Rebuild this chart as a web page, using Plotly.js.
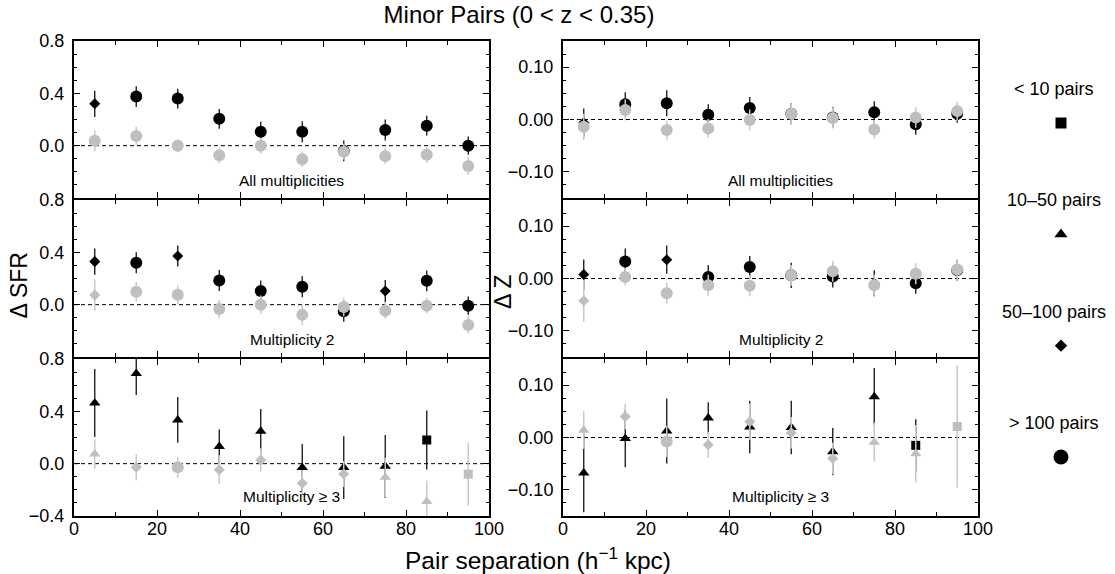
<!DOCTYPE html>
<html>
<head>
<meta charset="utf-8">
<script src="https://cdn.plot.ly/plotly-3.0.1.min.js"></script>
<style>html,body{margin:0;padding:0;background:#fff;}#chart{width:1115px;height:574px;}</style>
</head>
<body>
<div id="chart"></div>
<script>
// ---- data ----
const sepBins = [5, 15, 25, 35, 45, 55, 65, 75, 85, 95];
const sepTicks = [0, 20, 40, 60, 80, 100];
const sepMinor = [10, 30, 50, 70, 90];

// pair-count class: 1 = <10, 2 = 10-50, 3 = 50-100, 4 = >100
const legendLabels = ['< 10 pairs', '10\u201350 pairs', '50\u2013100 pairs', '> 100 pairs'];
const legendClasses = [1, 2, 3, 4];

// Delta SFR, all multiplicities
const sfrAllBlack    = [0.32, 0.375, 0.36, 0.205, 0.107, 0.107, -0.04, 0.12, 0.153, 0.0];
const sfrAllBlackErr = [0.10, 0.08, 0.075, 0.075, 0.075, 0.08, 0.08, 0.08, 0.075, 0.07];
const sfrAllGray     = [0.038, 0.074, 0.0, -0.074, 0.0, -0.104, -0.046, -0.08, -0.07, -0.155];
const sfrAllGrayErr  = [0.08, 0.07, 0.05, 0.06, 0.06, 0.06, 0.06, 0.06, 0.06, 0.07];
// Delta SFR, multiplicity 2
const sfrM2Black     = [0.329, 0.32, 0.372, 0.185, 0.104, 0.137, -0.05, 0.104, 0.182, -0.008];
const sfrM2BlackErr  = [0.10, 0.08, 0.08, 0.08, 0.08, 0.08, 0.08, 0.085, 0.08, 0.07];
const sfrM2Gray      = [0.073, 0.099, 0.076, -0.033, 0.0, -0.078, -0.018, -0.046, -0.008, -0.155];
const sfrM2GrayErr   = [0.12, 0.075, 0.07, 0.07, 0.07, 0.08, 0.07, 0.06, 0.06, 0.07];
// Delta SFR, multiplicity >= 3
const sfrM3Black     = [0.464, 0.69, 0.334, 0.132, 0.247, -0.03, -0.03, -0.02, 0.181, null];
const sfrM3BlackErr  = [0.26, 0.165, 0.175, 0.13, 0.17, 0.18, 0.24, 0.24, 0.225, null];
const sfrM3Gray      = [0.074, -0.028, -0.028, -0.046, 0.028, -0.15, -0.079, -0.104, -0.29, -0.08];
const sfrM3GrayErr   = [0.11, 0.10, 0.08, 0.11, 0.09, 0.10, 0.10, 0.15, 0.16, 0.24];

// Delta Z, all multiplicities
const zAllBlack      = [-0.006, 0.029, 0.031, 0.009, 0.022, 0.011, 0.004, 0.014, -0.009, 0.011];
const zAllBlackErr   = [0.027, 0.023, 0.025, 0.02, 0.021, 0.02, 0.02, 0.021, 0.02, 0.017];
const zAllGray       = [-0.014, 0.018, -0.02, -0.017, -0.001, 0.011, 0.003, -0.019, 0.004, 0.016];
const zAllGrayErr    = [0.025, 0.02, 0.018, 0.018, 0.02, 0.02, 0.02, 0.018, 0.02, 0.018];
// Delta Z, multiplicity 2
const zM2Black       = [0.0075, 0.0325, 0.036, 0.003, 0.022, 0.006, 0.004, -0.009, -0.009, 0.016];
const zM2BlackErr    = [0.029, 0.025, 0.027, 0.023, 0.021, 0.024, 0.021, 0.025, 0.02, 0.02];
const zM2Gray        = [-0.0425, 0.003, -0.028, -0.013, -0.014, 0.006, 0.014, -0.013, 0.009, 0.017];
const zM2GrayErr     = [0.04, 0.017, 0.02, 0.02, 0.02, 0.02, 0.02, 0.02, 0.02, 0.02];
// Delta Z, multiplicity >= 3
const zM3Black       = [-0.068, -0.002, 0.0125, 0.0375, 0.02, 0.019, -0.027, 0.078, -0.015, null];
const zM3BlackErr    = [0.075, 0.055, 0.062, 0.03, 0.05, 0.051, 0.045, 0.055, 0.05, null];
const zM3Gray        = [0.014, 0.04, -0.0075, -0.014, 0.03, 0.009, -0.04, -0.009, -0.031, 0.021];
const zM3GrayErr     = [0.036, 0.024, 0.03, 0.025, 0.035, 0.03, 0.03, 0.037, 0.055, 0.117];

// pair-count classes per bin
const allBlackClass = [3, 4, 4, 4, 4, 4, 4, 4, 4, 4];
const allGrayClass  = [4, 4, 4, 4, 4, 4, 4, 4, 4, 4];
const m2BlackClass  = [3, 4, 3, 4, 4, 4, 4, 3, 4, 4];
const m2GrayClass   = [3, 4, 4, 4, 4, 4, 4, 4, 4, 4];
const m3BlackClass  = [2, 2, 2, 2, 2, 2, 2, 2, 1, null];
const m3GrayClass   = [2, 3, 4, 3, 3, 3, 3, 2, 2, 1];

const panelLabels = ['All multiplicities', 'Multiplicity 2', 'Multiplicity \u2265 3'];

// ---- styling ----
const FONT = 'Liberation Sans, Arial, Helvetica, sans-serif';
const BLACK = '#000000';
const GRAY = '#bfbfbf';
const GRAY_ERR = '#c9c9c9';
const symbolOf = {1: 'square', 2: 'triangle-up', 3: 'diamond', 4: 'circle'};
const sizeOf = {1: 9, 2: 10, 3: 8.5, 4: 12};
const legendSizeOf = {1: 11, 2: 11.5, 3: 9.5, 4: 15};

const W = 1115, H = 574;
const xDom = [[74 / W, 489 / W], [563 / W, 978 / W]];
// panels separated by 2px gaps that the 2px frame lines fill
const yDom = [[1 - 198 / H, 1 - 41 / H], [1 - 357 / H, 1 - 200 / H], [1 - 516 / H, 1 - 359 / H]];

const panels = [
  {row: 0, col: 0, black: sfrAllBlack, bErr: sfrAllBlackErr, gray: sfrAllGray, gErr: sfrAllGrayErr, bc: allBlackClass, gc: allGrayClass},
  {row: 0, col: 1, black: zAllBlack, bErr: zAllBlackErr, gray: zAllGray, gErr: zAllGrayErr, bc: allBlackClass, gc: allGrayClass},
  {row: 1, col: 0, black: sfrM2Black, bErr: sfrM2BlackErr, gray: sfrM2Gray, gErr: sfrM2GrayErr, bc: m2BlackClass, gc: m2GrayClass},
  {row: 1, col: 1, black: zM2Black, bErr: zM2BlackErr, gray: zM2Gray, gErr: zM2GrayErr, bc: m2BlackClass, gc: m2GrayClass},
  {row: 2, col: 0, black: sfrM3Black, bErr: sfrM3BlackErr, gray: sfrM3Gray, gErr: sfrM3GrayErr, bc: m3BlackClass, gc: m3GrayClass},
  {row: 2, col: 1, black: zM3Black, bErr: zM3BlackErr, gray: zM3Gray, gErr: zM3GrayErr, bc: m3BlackClass, gc: m3GrayClass}
];

const traces = [];
const layout = {
  width: W, height: H,
  margin: {l: 0, r: 0, t: 0, b: 0},
  paper_bgcolor: '#ffffff', plot_bgcolor: '#ffffff',
  showlegend: false,
  font: {family: FONT, color: '#000', size: 18},
  title: {text: 'Minor Pairs (0 < z < 0.35)', x: 519 / W, xanchor: 'center', xref: 'paper',
          y: 1 - 15 / H, yanchor: 'middle', yref: 'paper', font: {family: FONT, size: 24, color: '#000'}},
  shapes: [],
  annotations: []
};

panels.forEach((p, i) => {
  const n = i + 1;
  const xa = 'x' + n, ya = 'y' + n;
  const mk = (vals, errs, cls, color, errColor, thick) => ({
    type: 'scatter', mode: 'markers', x: sepBins, y: vals,
    xaxis: xa, yaxis: ya, hoverinfo: 'skip',
    marker: {
      color: color, opacity: 1,
      symbol: cls.map(c => c == null ? 'circle' : symbolOf[c]),
      size: cls.map(c => c == null ? 0 : sizeOf[c]),
      line: {width: 0}
    },
    error_y: {type: 'data', array: errs, visible: true, width: 0, thickness: thick, color: errColor}
  });
  traces.push(mk(p.black, p.bErr, p.bc, BLACK, '#111111', 1.3));
  traces.push(mk(p.gray, p.gErr, p.gc, GRAY, GRAY_ERR, 1.5));

  const isBottom = p.row === 2;
  layout['xaxis' + n] = {
    domain: xDom[p.col], anchor: ya, range: [0, 100],
    tickmode: 'array', tickvals: sepTicks,
    ticks: 'inside', ticklen: 6, tickwidth: 1, tickcolor: '#000',
    minor: {tickmode: 'array', tickvals: sepMinor, ticks: 'inside', ticklen: 4, tickwidth: 1, tickcolor: '#000'},
    showline: true, linecolor: '#000', linewidth: 2, mirror: 'ticks',
    showgrid: false, zeroline: false,
    showticklabels: isBottom, tickfont: {size: 18, family: FONT, color: '#000'},
    ticklabelstandoff: -5, fixedrange: true
  };
  const isSfr = p.col === 0;
  layout['yaxis' + n] = {
    domain: yDom[p.row], anchor: xa,
    range: isSfr ? [-0.4, 0.8] : [-0.15, 0.15],
    tickmode: 'array',
    tickvals: isSfr ? (isBottom ? [-0.4, 0, 0.4, 0.8] : [0, 0.4, 0.8]) : [-0.1, 0, 0.1],
    tickformat: isSfr ? '.1f' : '.2f',
    ticks: 'inside', ticklen: 6, tickwidth: 1, tickcolor: '#000',
    minor: {dtick: isSfr ? 0.1 : 0.025, tick0: 0, ticks: 'inside', ticklen: 3, tickwidth: 1, tickcolor: '#000'},
    showline: true, linecolor: '#000', linewidth: 2, mirror: 'ticks',
    showgrid: false, zeroline: false,
    tickfont: {size: 18, family: FONT, color: '#000'},
    ticklabelstandoff: 4, fixedrange: true
  };
  layout.shapes.push({type: 'line', xref: xa + ' domain', x0: 0, x1: 1, yref: ya, y0: 0, y1: 0,
                      line: {color: '#000', width: 1, dash: '4px,3px'}, layer: 'below'});
  layout.annotations.push({xref: xa + ' domain', yref: ya + ' domain', x: 0.525, y: isBottom ? 0.125 : 0.11,
                           xanchor: 'center', yanchor: 'middle', showarrow: false,
                           text: panelLabels[p.row], font: {size: 15.5, family: FONT, color: '#000'}});
});

// legend key (own invisible axes)
layout.xaxis7 = {domain: [1007 / W, 1], type: 'category', range: [-1, 1], visible: false, fixedrange: true};
layout.yaxis7 = {domain: [1 - 512.7 / H, 1 - 67.3 / H], range: [0.5, 4.5], visible: false, fixedrange: true};
const legendY = legendClasses.map(c => 5 - c);
traces.push({
  type: 'scatter', mode: 'markers', xaxis: 'x7', yaxis: 'y7', hoverinfo: 'skip',
  x: legendClasses.map(() => 'key'), y: legendY,
  marker: {color: BLACK, opacity: 1, symbol: legendClasses.map(c => symbolOf[c]), size: legendClasses.map(c => legendSizeOf[c]), line: {width: 0}}
});
legendLabels.forEach((lab, i) => {
  layout.annotations.push({xref: 'x7', yref: 'y7', x: 0, y: legendY[i], xshift: -7, yshift: 34,
                           xanchor: 'center', yanchor: 'middle', showarrow: false, text: lab,
                           font: {size: 18, family: FONT, color: '#000'}});
});

// axis titles
layout.annotations.push({xref: 'paper', yref: 'paper', x: 538 / W, y: 1 - 558 / H, xanchor: 'center', yanchor: 'middle',
                         showarrow: false, text: 'Pair separation (h<sup>\u22121</sup> kpc)', font: {size: 24.5, family: FONT, color: '#000'}});
layout.annotations.push({xref: 'paper', yref: 'paper', x: 18.5 / W, y: 1 - 286 / H, xanchor: 'center', yanchor: 'middle',
                         showarrow: false, textangle: -90, text: '\u0394 SFR', font: {size: 23, family: FONT, color: '#000'}});
layout.annotations.push({xref: 'paper', yref: 'paper', x: 503 / W, y: 1 - 292 / H, xanchor: 'center', yanchor: 'middle',
                         showarrow: false, textangle: -90, text: '\u0394 Z', font: {size: 23, family: FONT, color: '#000'}});

Plotly.newPlot('chart', traces, layout, {staticPlot: true, displayModeBar: false});
</script>
</body>
</html>
